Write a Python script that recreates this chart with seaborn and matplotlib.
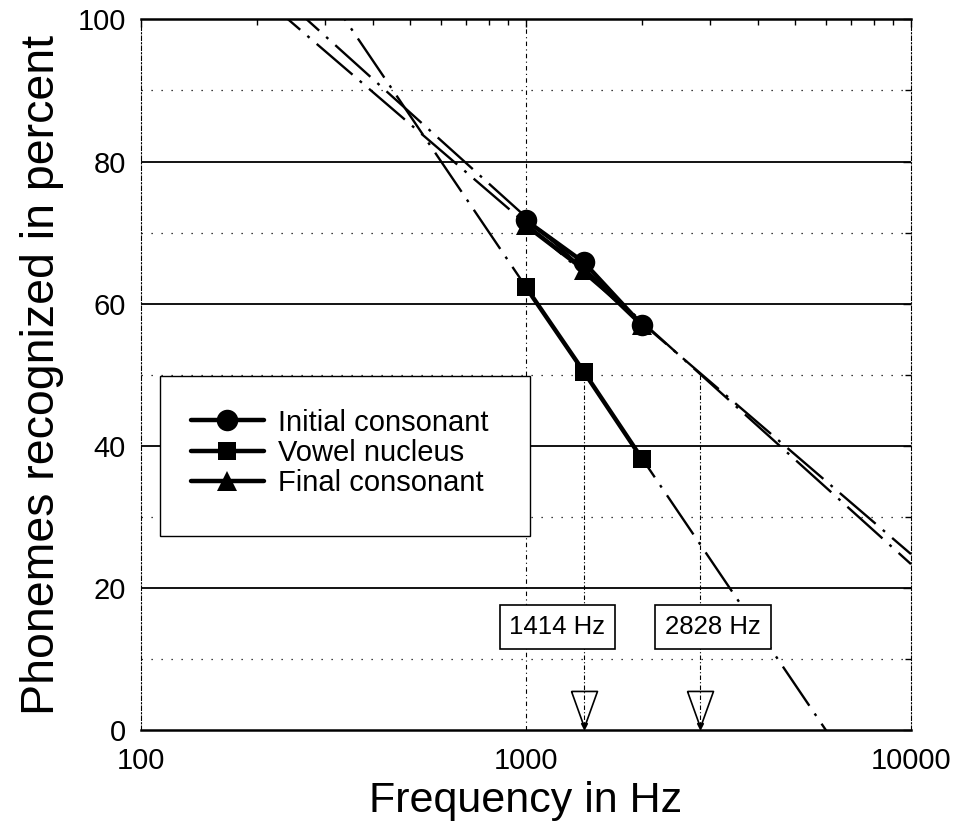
"""
Phoneme recognition vs low-pass cutoff frequency, with log-linear fits
"""

# %% Imports
import numpy as np
import pandas as pd
import seaborn as sns
from matplotlib import pyplot as plt
from matplotlib.lines import Line2D
from matplotlib.patches import Rectangle
from matplotlib.ticker import FixedLocator, MultipleLocator, LogLocator, NullFormatter

# %% Data
FREQS = [1000, 1414, 2000]
INITIAL = [71.7, 65.8, 57.0]
VOWEL = [62.3, 50.4, 38.2]
FINAL = [71.0, 64.8, 57.0]

SERIES_NAMES = ["Initial consonant", "Vowel nucleus", "Final consonant"]
MARKERS = ["o", "s", "^"]

MARK_FREQS = [1414, 2828]
MARK_LABELS = ["1414 Hz", "2828 Hz"]
MARK_LEVEL = 50

X_TICKS = [100, 1000, 10000]
Y_TICKS = [0, 20, 40, 60, 80, 100]

# %% Style
sns.set_style("white")
plt.rcParams["font.family"] = ["Liberation Sans", "DejaVu Sans"]
plt.rcParams.update(
    {"text.color": "black", "axes.labelcolor": "black", "xtick.color": "black", "ytick.color": "black"}
)

df = pd.DataFrame(
    {
        "freq": FREQS * 3,
        "pct": INITIAL + VOWEL + FINAL,
        "series": np.repeat(SERIES_NAMES, len(FREQS)),
    }
)

fig = plt.figure(figsize=(9.54, 8.35), dpi=100)
ax = fig.add_axes([0.1478, 0.1257, 0.8071, 0.8511])
ax.set_xscale("log")
ax.set_xlim(100, 10000)
ax.set_ylim(0, 100)

# %% fitted log-linear lines (dash-dot)
offsets = {"Initial consonant": 0, "Vowel nucleus": 9, "Final consonant": 0}
for name in SERIES_NAMES:
    _df = df[df.series == name]
    sns.regplot(
        data=_df,
        x="freq",
        y="pct",
        logx=True,
        ci=None,
        truncate=False,
        scatter=False,
        line_kws=dict(color="black", linewidth=1.7, linestyle=(offsets[name], (20, 4, 1.2, 4)), zorder=3),
        ax=ax,
    )

# %% measured points
ms = {"Initial consonant": 15.5, "Vowel nucleus": 13, "Final consonant": 15}
for name, marker in zip(["Final consonant", "Vowel nucleus", "Initial consonant"], ["^", "s", "o"]):
    _df = df[df.series == name]
    sns.lineplot(
        data=_df,
        x="freq",
        y="pct",
        color="black",
        linewidth=3.2,
        marker=marker,
        markersize=ms[name],
        markeredgewidth=0,
        legend=False,
        zorder=5,
        ax=ax,
    )

ax.set_xlim(100, 10000)
ax.set_ylim(0, 100)

# %% grid, spines, ticks
ax.yaxis.set_major_locator(FixedLocator(Y_TICKS))
ax.yaxis.set_minor_locator(MultipleLocator(10))
ax.xaxis.set_major_locator(FixedLocator(X_TICKS))
ax.xaxis.set_minor_locator(LogLocator(base=10, subs=np.arange(2, 10)))
ax.xaxis.set_minor_formatter(NullFormatter())
ax.set_xticklabels([str(t) for t in X_TICKS])

ax.grid(False)
for y in Y_TICKS[1:-1]:
    ax.axhline(y, color="black", linewidth=1.3, zorder=1)
for y in range(10, 100, 20):
    ax.axhline(y, color="black", linewidth=0.9, linestyle=(0, (1, 7)), zorder=1)
ax.axvline(1000, color="black", linewidth=0.8, linestyle=(0, (4, 3, 1, 3)), zorder=1)

for side in ["top", "bottom"]:
    ax.spines[side].set_linewidth(1.8)
    ax.spines[side].set_color("black")
for side in ["left", "right"]:
    ax.spines[side].set_linewidth(0.8)
    ax.spines[side].set_linestyle((0, (4, 2, 1, 2)))
    ax.spines[side].set_color("black")

ax.tick_params(which="both", direction="in", top=True, right=True, color="black", labelcolor="black")
ax.tick_params(which="major", length=6, width=1, labelsize=21)
ax.tick_params(which="minor", length=4, width=1)
ax.tick_params(axis="y", pad=11)
ax.tick_params(axis="x", pad=12)

ax.set_xlabel("Frequency in Hz", fontsize=31, color="black")
ax.set_ylabel("Phonemes recognized in percent", fontsize=33.5, color="black")
ax.xaxis.set_label_coords(0.5, -0.072)
ax.yaxis.set_label_coords(-0.1, 0.5)

# %% 50% markers (dashed drop lines, open arrowheads, labelled boxes)
arrow_marker = [(-0.36, 0.5), (0.36, 0.5), (0, -0.5), (-0.36, 0.5)]
for f, label, box_x in zip(MARK_FREQS, MARK_LABELS, [1207, 3060]):
    ax.plot([f, f], [MARK_LEVEL, 0], color="black", linewidth=0.8, linestyle=(0, (4, 2, 1, 2)), zorder=2)
    ax.plot([f], [2.9], marker=arrow_marker, markersize=26, markerfacecolor="none",
            markeredgecolor="black", markeredgewidth=1.2, linestyle="none", zorder=4)
    ax.plot([f], [0.6], marker="v", markersize=5, color="black", linestyle="none", zorder=4)
    ax.text(
        box_x, 14.5, label, fontsize=18.5, ha="center", va="center", zorder=6, color="black",
        bbox=dict(boxstyle="square,pad=0.38", facecolor="white", edgecolor="black", linewidth=1.2),
    )

# %% legend in a plain framed box
ax.add_patch(
    Rectangle((0.0247, 0.273), 0.4803, 0.225, transform=ax.transAxes, facecolor="white",
              edgecolor="black", linewidth=1.0, zorder=6)
)
handles = [
    Line2D([], [], color="black", linewidth=3.2, marker=m, markersize=s, markeredgewidth=0)
    for m, s in zip(MARKERS, [15.5, 13, 15])
]
leg = ax.legend(
    handles, SERIES_NAMES, loc="center", bbox_to_anchor=(0.258, 0.39), frameon=False,
    fontsize=21, handlelength=2.5, handletextpad=0.5, labelspacing=0.08, labelcolor="black",
)
leg.set_zorder(7)

fig.savefig("out.png", dpi=100)
